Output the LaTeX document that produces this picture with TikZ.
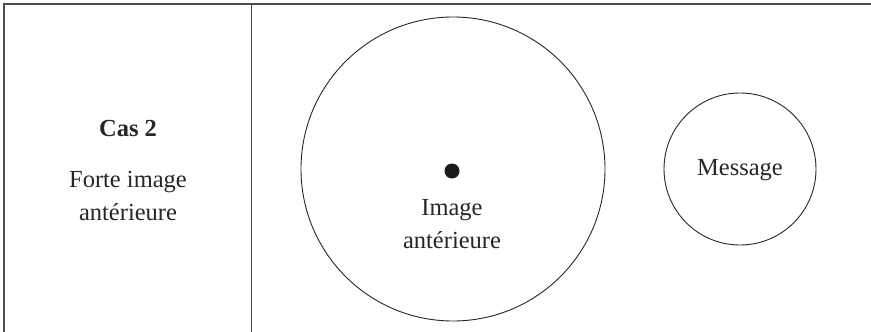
\documentclass[tikz,border=0pt]{standalone}
\usepackage{fontspec}
\setmainfont{Liberation Serif}
\begin{document}
\begin{tikzpicture}[x=1pt,y=-1pt,
  rule/.style={line width=1.5pt,draw=black!70},
  ring/.style={circle,draw=black!85,line width=0.9pt,inner sep=0pt},
  lbl/.style={anchor=base,font=\fontsize{24.5}{33}\selectfont,text=black!85}]
\useasboundingbox (0,0) rectangle (871,332);
\coordinate (tl) at (4,4);
\coordinate (tr) at (871,4);
\coordinate (bl) at (4,332);
\coordinate (dt) at (251.5,4);
\coordinate (db) at (251.5,332);
\draw[rule] (bl) -- (tl) -- (tr);
\draw[rule] (dt) -- (db);
\node[lbl,font=\fontsize{24.5}{33}\selectfont\bfseries] (cas) at (128,136) {Cas 2};
\node[lbl] (forte) at (128,187) {Forte image};
\node[lbl] (ant) at (128,220) {antérieure};
\node[ring,minimum size=304pt] (big) at (453,169) {};
\node[circle,fill=black!90,minimum size=15pt,inner sep=0pt] (dot) at (452,171) {};
\node[lbl] (img) at (452,215) {Image};
\node[lbl] (imgant) at (452,248) {antérieure};
\node[ring,minimum size=152pt] (msg) at (740,169) {};
\node[lbl] (msgt) at (740,175) {Message};
\end{tikzpicture}
\end{document}
